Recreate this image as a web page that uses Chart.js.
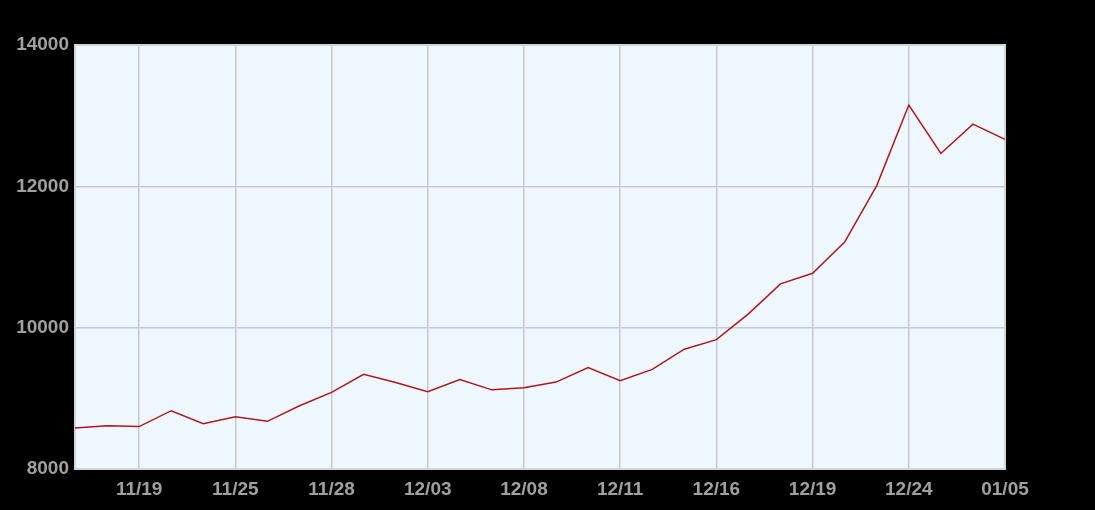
<!DOCTYPE html>
<html>
<head>
<meta charset="utf-8">
<script src="https://cdn.jsdelivr.net/npm/chart.js@4/dist/chart.umd.min.js"></script>
<style>
  html, body { margin: 0; padding: 0; background: #000; }
  #wrap { width: 1095px; height: 510px; }
</style>
</head>
<body>
<div id="wrap"><canvas id="chart" width="1095" height="510"></canvas></div>
<script>
// dates on the x axis (only every third one is labelled in the picture)
const dateLabels = [
  '', '', '11/19', '', '', '11/25', '', '', '11/28', '', '', '12/03',
  '', '', '12/08', '', '', '12/11', '', '', '12/16', '', '', '12/19',
  '', '', '12/24', '', '', '01/05'
];

// series values
const seriesValues = [
  8580, 8613, 8600, 8825, 8640, 8740, 8675, 8895, 9085, 9340,
  9225, 9095, 9265, 9120, 9150, 9230, 9435, 9250, 9410, 9695,
  9830, 10195, 10620, 10770, 11210, 12010, 13150, 12465, 12880, 12665
];

// y axis range and step
const yMin = 8000;
const yMax = 14000;
const yStep = 2000;

// fill plot area + outline it
const plotFrame = {
  id: 'plotFrame',
  beforeDraw(chart) {
    const { ctx, chartArea: a } = chart;
    ctx.save();
    ctx.fillStyle = '#eef7fe';
    ctx.fillRect(a.left, a.top, a.right - a.left, a.bottom - a.top);
    ctx.restore();
  },
  beforeDatasetsDraw(chart) {
    const { ctx, chartArea: a } = chart;
    ctx.save();
    ctx.strokeStyle = '#d2d4d6';
    ctx.lineWidth = 2;
    ctx.strokeRect(a.left, a.top, a.right - a.left, a.bottom - a.top);
    ctx.restore();
  }
};

const tickFont = { family: '"Liberation Sans", Arial, sans-serif', size: 19, weight: 'bold' };

new Chart(document.getElementById('chart'), {
  type: 'line',
  data: {
    labels: dateLabels,
    datasets: [{
      data: seriesValues,
      borderColor: '#b0161b',
      borderWidth: 1.5,
      pointRadius: 0,
      tension: 0,
      fill: false
    }]
  },
  options: {
    responsive: false,
    animation: false,
    layout: { padding: { top: 45, right: 90, bottom: 0, left: 0 } },
    plugins: {
      legend: { display: false },
      tooltip: { enabled: false }
    },
    scales: {
      x: {
        offset: false,
        grid: { color: '#c6c9cc', lineWidth: 1.5, drawTicks: false },
        border: { display: false },
        ticks: {
          autoSkip: false,
          maxRotation: 0,
          padding: 9,
          color: '#a0a0a0',
          font: tickFont,
          callback: function(value, index) {
            const l = dateLabels[index];
            return l === '' ? null : l;
          }
        },
        afterFit(scale) { scale.height = 41; }
      },
      y: {
        min: yMin,
        max: yMax,
        grid: { color: '#c6c9cc', lineWidth: 1.5, drawTicks: false },
        border: { display: false },
        ticks: {
          stepSize: yStep,
          padding: 6,
          color: '#a0a0a0',
          font: tickFont,
          callback: v => String(v)
        },
        afterFit(scale) { scale.width = 75; }
      }
    }
  },
  plugins: [plotFrame]
});
</script>
</body>
</html>
